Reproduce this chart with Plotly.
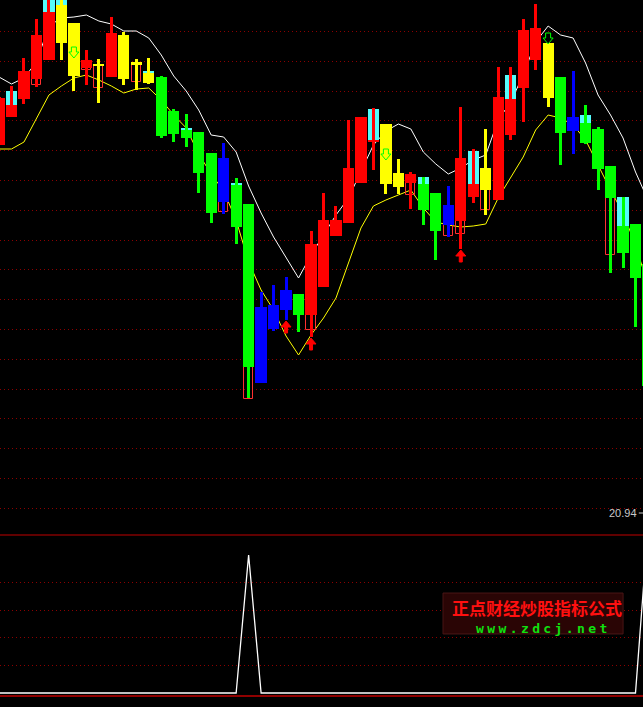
import plotly.graph_objects as go

# ---------------- data ----------------
idx = list(range(-1, 52))
# candle state: R = strong up, Y = warning, G = down, B = weak
state = ["R", "R", "R", "R", "R", "Y", "Y", "R", "Y", "R", "Y", "Y", "Y",
         "G", "G", "G", "G", "G", "B", "G", "G", "B", "B", "B", "G", "R",
         "R", "R", "R", "R", "R", "Y", "Y", "R", "G", "G", "B", "R", "R",
         "Y", "R", "R", "R", "R", "Y", "G", "B", "G", "G", "G", "G", "G", "G"]
open_ = [24.62, 24.90, 25.08, 25.28, 25.47, 26.02, 25.84, 25.39, 25.43, 25.30, 25.72, 25.45, 25.34,
         25.30, 24.96, 24.77, 24.75, 24.54, 24.49, 24.22, 24.03, 23.00, 23.02, 23.17, 23.13, 22.92,
         23.20, 23.71, 23.84, 24.24, 24.65, 24.83, 24.34, 24.24, 24.23, 24.14, 24.02, 23.86, 24.10,
         24.39, 24.07, 24.72, 25.19, 25.47, 25.64, 25.30, 24.90, 24.84, 24.78, 24.41, 23.81, 23.83, 23.43]
close = [25.09, 25.02, 25.36, 25.72, 25.95, 25.64, 25.31, 25.47, 25.41, 25.74, 25.28, 25.42, 25.24,
         24.71, 24.73, 24.69, 24.34, 23.94, 24.05, 23.80, 22.40, 22.24, 22.78, 22.97, 22.92, 23.63,
         23.87, 23.87, 24.39, 24.90, 24.67, 24.23, 24.20, 24.33, 23.97, 23.76, 23.82, 24.49, 24.23,
         24.17, 25.10, 25.08, 25.77, 25.79, 25.09, 24.74, 24.76, 24.64, 24.38, 24.09, 23.54, 23.29, 22.21]
high = [25.10, 25.21, 25.49, 25.88, 26.10, 26.10, 25.84, 25.57, 25.48, 25.90, 25.75, 25.48, 25.49,
        25.31, 24.98, 24.93, 24.75, 24.54, 24.64, 24.29, 24.03, 23.15, 23.22, 23.30, 23.13, 23.76,
        24.14, 24.01, 24.87, 24.90, 24.99, 24.83, 24.48, 24.35, 24.30, 24.14, 24.21, 25.00, 24.58,
        24.78, 25.40, 25.40, 25.88, 26.03, 25.64, 25.30, 25.36, 25.02, 24.80, 24.41, 24.10, 23.83, 23.43]
low = [24.62, 24.90, 25.03, 25.20, 25.47, 25.47, 25.16, 25.22, 25.04, 25.30, 25.22, 25.17, 25.23,
       24.69, 24.65, 24.60, 24.14, 23.84, 23.93, 23.63, 22.09, 22.24, 22.76, 22.87, 22.75, 22.70,
       23.20, 23.71, 23.84, 24.24, 24.37, 24.13, 24.13, 23.98, 23.82, 23.47, 23.70, 23.58, 24.04,
       23.92, 24.07, 24.67, 24.85, 25.37, 25.00, 24.42, 24.53, 24.63, 24.17, 23.34, 23.39, 22.80, 22.21]
# cyan block above the body (index -> top price)
cyan_top = {0: 25.16, 3: 26.10, 4: 26.10, 11: 25.36, 14: 24.79, 18: 24.24, 29: 24.98,
            33: 24.30, 37: 24.56, 40: 25.32, 46: 24.92, 49: 24.10}
# hollow red box below the body (index -> bottom price)
hollow_bottom = {2: 25.22, 6: 25.37, 7: 25.19, 10: 25.25, 17: 23.95, 19: 22.08, 24: 22.77,
                 32: 24.12, 35: 23.71, 36: 23.73, 38: 23.97, 48: 23.52}
up_arrow_tip = {22: 22.86, 24: 22.69, 36: 23.57}
down_arrow_top = {5: 25.60, 30: 24.58, 43: 25.74}
upper_band = [25.30, 25.23, 25.29, 25.45, 25.81, 25.89, 25.90, 25.92, 25.86, 25.83, 25.76, 25.76, 25.69,
              25.52, 25.31, 25.16, 24.97, 24.72, 24.70, 24.55, 24.21, 23.94, 23.70, 23.49, 23.29, 23.52,
              23.72, 23.92, 24.09, 24.35, 24.62, 24.76, 24.83, 24.78, 24.55, 24.43, 24.33, 24.39, 24.47,
              24.52, 24.87, 25.05, 25.32, 25.65, 25.81, 25.72, 25.69, 25.44, 25.12, 24.92, 24.69, 24.35, 24.07]
lower_band = [24.58, 24.58, 24.65, 24.89, 25.12, 25.21, 25.29, 25.32, 25.27, 25.21, 25.14, 25.18, 25.19,
              25.07, 24.92, 24.79, 24.53, 24.33, 24.16, 23.87, 23.45, 23.17, 22.97, 22.71, 22.52, 22.72,
              22.89, 23.09, 23.43, 23.79, 24.01, 24.07, 24.12, 24.17, 23.99, 23.85, 23.82, 23.80, 23.81,
              23.83, 24.09, 24.30, 24.50, 24.77, 24.92, 24.89, 24.82, 24.67, 24.42, 24.17, 23.94, 23.62, 23.22]
signal = [0] * 20 + [100] + [0] * 31 + [120]
grid_prices = [25.76, 25.46, 25.16, 24.87, 24.57, 24.27, 23.97, 23.67, 23.38, 23.08, 22.78,
               22.48, 22.18, 21.89, 21.59, 21.29, 20.99]
signal_grid = [20, 40, 60, 80]
price_label = 20.94
signal_floor = -2.17
watermark_cn = "正点财经炒股指标公式"
watermark_url = "www.zdcj.net"

# ---------------- styling ----------------
COL = {"R": "#ff0000", "Y": "#ffff00", "G": "#00ff00", "B": "#0000ff"}
CYAN = "#54fcfc"
X_RANGE = [-0.9215, 50.601]
Y_RANGE = [20.72, 26.07]
Y2_RANGE = [-10.145, 114.49]
W, H = 643, 707
SPLIT = 0.24328
ppx = W / (X_RANGE[1] - X_RANGE[0])
ppy = (H * (1 - SPLIT)) / (Y_RANGE[1] - Y_RANGE[0])

fig = go.Figure()

# bands (base subplot, drawn under candles)
fig.add_trace(go.Scatter(x=idx, y=upper_band, mode="lines", line=dict(color="#ffffff", width=1),
                         xaxis="x", yaxis="y", hoverinfo="skip"))
fig.add_trace(go.Scatter(x=idx, y=lower_band, mode="lines", line=dict(color="#ffff00", width=1),
                         xaxis="x", yaxis="y", hoverinfo="skip"))

pos = {i: k for k, i in enumerate(idx)}
body_top = [max(o, c) for o, c in zip(open_, close)]
body_bot = [min(o, c) for o, c in zip(open_, close)]
colors = [COL[s] for s in state]

# cyan blocks
cx = list(cyan_top.keys())
fig.add_trace(go.Bar(x=cx, base=[body_top[pos[i]] for i in cx],
                     y=[cyan_top[i] - body_top[pos[i]] for i in cx],
                     width=0.9, marker=dict(color=CYAN, line=dict(width=0)),
                     xaxis="x", yaxis="y3", hoverinfo="skip"))
# hollow boxes
hx = list(hollow_bottom.keys())
fig.add_trace(go.Bar(x=hx, base=[hollow_bottom[i] for i in hx],
                     y=[body_bot[pos[i]] - hollow_bottom[i] for i in hx],
                     width=0.74, marker=dict(color="rgba(0,0,0,0)", line=dict(color="#ff3030", width=1)),
                     xaxis="x", yaxis="y3", hoverinfo="skip"))
# wicks
fig.add_trace(go.Bar(x=idx, base=low, y=[h - l for h, l in zip(high, low)], width=0.24,
                     marker=dict(color=colors, line=dict(width=0)),
                     xaxis="x", yaxis="y3", hoverinfo="skip"))
# bodies
fig.add_trace(go.Bar(x=idx, base=body_bot, y=[max(t - b, 0.02) for t, b in zip(body_top, body_bot)],
                     width=0.9, marker=dict(color=colors, line=dict(width=0)),
                     xaxis="x", yaxis="y3", hoverinfo="skip"))

# arrows
DOWN = [(-2.5, 0), (2.5, 0), (2.5, 5), (5, 5), (0, 11), (-5, 5), (-2.5, 5), (-2.5, 0)]
UP = [(0, 0), (5, 6), (1.5, 6), (1.5, 12), (-1.5, 12), (-1.5, 6), (-5, 6), (0, 0)]


def poly(anchors, shape):
    xs, ys = [], []
    for i, yv in anchors.items():
        for dx, dy in shape:
            xs.append(i + dx / ppx)
            ys.append(yv - dy / ppy)
        xs.append(None)
        ys.append(None)
    return xs, ys


ax, ay = poly(down_arrow_top, DOWN)
fig.add_trace(go.Scatter(x=ax, y=ay, mode="lines", line=dict(color="#00ff00", width=1),
                         xaxis="x", yaxis="y3", hoverinfo="skip"))
ux, uy = poly(up_arrow_tip, UP)
fig.add_trace(go.Scatter(x=ux, y=uy, mode="lines", fill="toself", fillcolor="#ff0000",
                         line=dict(color="#ff0000", width=1), xaxis="x", yaxis="y3", hoverinfo="skip"))

# lower panel signal
fig.add_trace(go.Scatter(x=idx, y=signal, mode="lines", line=dict(color="#ffffff", width=1.3),
                         xaxis="x2", yaxis="y2", hoverinfo="skip"))

grid = dict(showgrid=True, gridcolor="#8c0000", griddash="1px,3px", gridwidth=1,
            showticklabels=False, ticks="", zeroline=False, showline=False, fixedrange=True)

fig.update_layout(
    width=W, height=H, margin=dict(l=0, r=0, t=0, b=0),
    paper_bgcolor="#000000", plot_bgcolor="#000000",
    showlegend=False, barmode="overlay", bargap=0,
    xaxis=dict(range=X_RANGE, visible=False, anchor="y", fixedrange=True),
    xaxis2=dict(range=X_RANGE, visible=False, anchor="y2", fixedrange=True),
    yaxis=dict(domain=[SPLIT, 1], range=Y_RANGE, tickvals=grid_prices, anchor="x", **grid),
    yaxis3=dict(range=Y_RANGE, overlaying="y", anchor="x", visible=False, fixedrange=True),
    yaxis2=dict(domain=[0, SPLIT], range=Y2_RANGE, tickvals=signal_grid, anchor="x2", **grid),
    shapes=[
        dict(type="line", xref="paper", yref="paper", x0=0, x1=1, y0=SPLIT, y1=SPLIT,
             line=dict(color="#c00000", width=1)),
        dict(type="line", xref="paper", yref="y2", x0=0, x1=1, y0=signal_floor, y1=signal_floor,
             line=dict(color="#c00000", width=1.5)),
        dict(type="line", xref="paper", yref="y", x0=0.9935, x1=1, y0=price_label, y1=price_label,
             line=dict(color="#c8c8c8", width=1)),
        dict(type="rect", xref="paper", yref="paper", x0=0.689, x1=0.969, y0=0.1033, y1=0.1612,
             fillcolor="#2a0505", line=dict(color="#4a1616", width=1)),
    ],
    annotations=[
        dict(text=f"{price_label:.2f}", xref="paper", yref="y", x=1, y=price_label, xanchor="right",
             yanchor="middle", xshift=-4, showarrow=False,
             font=dict(family="Liberation Sans, Arial", size=11, color="#c8c8c8")),
        dict(text="<b>" + watermark_cn + "</b>", xref="paper", yref="paper", x=0.8344, y=0.1414,
             xanchor="center", yanchor="middle", showarrow=False, borderpad=0,
             font=dict(family="Noto Sans CJK SC", size=17, color="#ff1010")),
        dict(text="<b><span style='letter-spacing:3.4px'>" + watermark_url + "</span></b>",
             xref="paper", yref="paper", x=0.8445, y=0.1117,
             xanchor="center", yanchor="middle", showarrow=False, borderpad=0,
             font=dict(family="DejaVu Sans Mono", size=13, color="#10e010")),
    ],
)

fig.write_html("out.html", config={"displayModeBar": False},
               post_script="document.body.style.margin='0px';")
